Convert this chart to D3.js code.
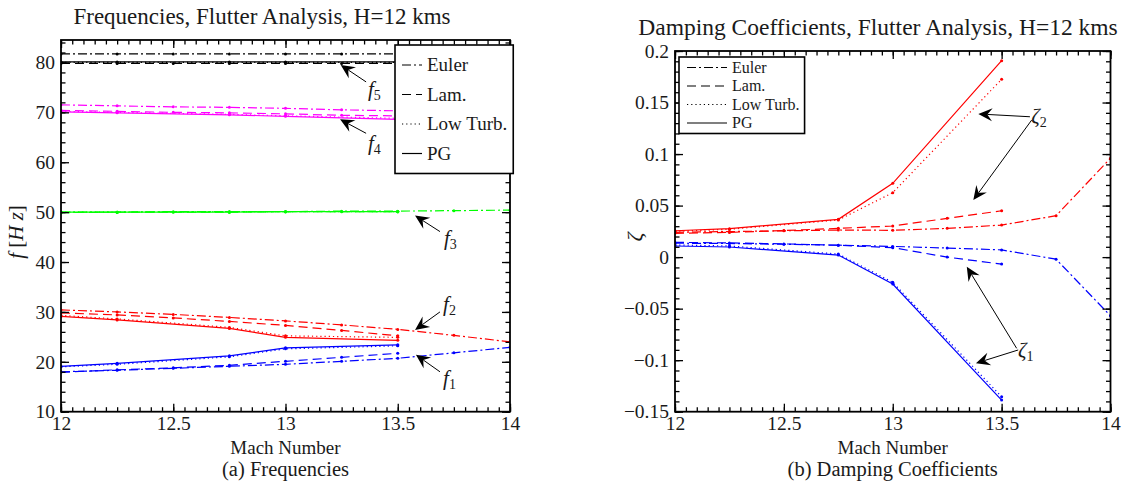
<!DOCTYPE html>
<html>
<head>
<meta charset="utf-8">
<script src="https://cdn.jsdelivr.net/npm/d3@7"></script>
<style>
  body { margin: 0; background: #fff; }
  svg { display: block; }
  text { font-family: "Liberation Serif", "Times New Roman", serif; fill: #1a1a1a; }
</style>
</head>
<body>
<svg id="fig" width="1144" height="485"></svg>
<script>
// ---- Mach number grids per model ----
const machEuler = [12, 12.25, 12.5, 12.75, 13, 13.25, 13.5, 13.75, 14];
const machLam   = [12, 12.25, 12.5, 12.75, 13, 13.25, 13.5];
const machTurb  = [12, 12.25, 12.75, 13, 13.5];
const machPG    = [12, 12.25, 12.75, 13, 13.5];

// ---- Frequencies f [Hz] ----
const f1Euler = [18.0, 18.3, 18.7, 19.1, 19.5, 20.1, 20.7, 21.8, 22.9];
const f1Lam   = [17.9, 18.4, 18.8, 19.3, 20.1, 20.9, 21.7];
const f1Turb  = [19.0, 19.5, 21.0, 22.6, 23.2];
const f1PG    = [19.1, 19.7, 21.2, 22.8, 23.4];

const f2Euler = [30.4, 30.0, 29.5, 28.9, 28.2, 27.4, 26.5, 25.3, 24.0];
const f2Lam   = [29.8, 29.4, 28.8, 28.1, 27.3, 26.3, 25.2];
const f2Turb  = [29.3, 28.6, 26.9, 25.2, 24.9];
const f2PG    = [29.1, 28.4, 26.7, 24.9, 24.3];

const f3Euler = [50.0, 50.0, 50.1, 50.1, 50.1, 50.2, 50.2, 50.3, 50.4];
const f3Lam   = [49.9, 50.0, 50.0, 50.0, 50.1, 50.1, 50.1];
const f3Turb  = [50.0, 50.0, 50.1, 50.1, 50.1];
const f3PG    = [50.0, 50.0, 50.0, 50.1, 50.1];

const f4Euler = [71.5, 71.3, 71.1, 71.0, 70.8, 70.5, 70.3, 70.1, 69.9];
const f4Lam   = [70.4, 70.2, 70.0, 69.9, 69.7, 69.4, 69.3];
const f4Turb  = [70.2, 70.0, 69.6, 69.3, 68.8];
const f4PG    = [70.1, 69.9, 69.5, 69.2, 68.6];

const f5Euler = [81.7, 81.7, 81.7, 81.7, 81.7, 81.7, 81.7, 81.7, 81.7];
const f5Lam   = [79.8, 79.8, 79.8, 79.8, 79.8, 79.8, 79.8];
const f5Turb  = [80.0, 80.0, 80.0, 80.0, 80.0];
const f5PG    = [80.1, 80.1, 80.1, 80.1, 80.1];

// ---- Damping coefficients zeta ----
const z1Euler = [0.0135, 0.0132, 0.0125, 0.0116, 0.0104, 0.0088, 0.0070, -0.0020, -0.0570];
const z1Lam   = [0.0143, 0.0138, 0.0128, 0.0115, 0.0092, 0.0000, -0.0068];
const z1Turb  = [0.0118, 0.0108, 0.0030, -0.0245, -0.1355];
const z1PG    = [0.0108, 0.0098, 0.0020, -0.0261, -0.1387];

const z2Euler = [0.0241, 0.0248, 0.0255, 0.0263, 0.0260, 0.0279, 0.0311, 0.0402, 0.0959];
const z2Lam   = [0.0231, 0.0240, 0.0258, 0.0279, 0.0302, 0.0376, 0.0450];
const z2Turb  = [0.0250, 0.0270, 0.0360, 0.0625, 0.1725];
const z2PG    = [0.0256, 0.0276, 0.0367, 0.0716, 0.1906];

// ---- Tick values ----
const machTicks = [12, 12.5, 13, 13.5, 14];
const machTickLabels = ["12", "12.5", "13", "13.5", "14"];
const freqTicks = [10, 20, 30, 40, 50, 60, 70, 80];
const zetaTicks = [-0.15, -0.1, -0.05, 0, 0.05, 0.1, 0.15, 0.2];
const zetaTickLabels = ["\u22120.15", "\u22120.1", "\u22120.05", "0", "0.05", "0.1", "0.15", "0.2"];

// ---- Legend ----
const modelNames = ["Euler", "Lam.", "Low Turb.", "PG"];
const modelDash  = ["9,3,2,3", "9,5", "1.2,3", null];

const svg = d3.select("#fig");

function range(a, b, step) {
  const out = [];
  const n = Math.round((b - a) / step);
  for (let i = 0; i <= n; i++) out.push(+(a + i * step).toFixed(6));
  return out;
}

// Boxed axes with inward major/minor ticks on all four sides
function drawFrame(g, x, y, xMajor, xLabels, xMinor, yMajor, yLabels, yMinor) {
  const [x0, x1] = x.range();
  const [yb, yt] = y.range();
  const major = 8, minor = 4.5;

  g.append("g").attr("transform", `translate(0,${yb})`)
    .call(d3.axisBottom(x).tickValues(xMajor).tickSize(-major).tickPadding(4)
      .tickFormat((d, i) => xLabels[i]));
  g.append("g").attr("transform", `translate(0,${yb})`)
    .call(d3.axisBottom(x).tickValues(xMinor).tickSize(-minor).tickFormat(""));
  g.append("g").attr("transform", `translate(0,${yt})`)
    .call(d3.axisTop(x).tickValues(xMajor).tickSize(-major).tickFormat(""));
  g.append("g").attr("transform", `translate(0,${yt})`)
    .call(d3.axisTop(x).tickValues(xMinor).tickSize(-minor).tickFormat(""));

  g.append("g").attr("transform", `translate(${x0},0)`)
    .call(d3.axisLeft(y).tickValues(yMajor).tickSize(-major).tickPadding(6)
      .tickFormat((d, i) => yLabels[i]));
  g.append("g").attr("transform", `translate(${x0},0)`)
    .call(d3.axisLeft(y).tickValues(yMinor).tickSize(-minor).tickFormat(""));
  g.append("g").attr("transform", `translate(${x1},0)`)
    .call(d3.axisRight(y).tickValues(yMajor).tickSize(-major).tickFormat(""));
  g.append("g").attr("transform", `translate(${x1},0)`)
    .call(d3.axisRight(y).tickValues(yMinor).tickSize(-minor).tickFormat(""));

  g.selectAll(".domain").remove();
  g.selectAll(".tick line").attr("stroke", "#000").attr("stroke-width", 1.3);
  g.selectAll(".tick text").attr("font-size", 19.5).attr("fill", "#1a1a1a")
    .style("font-family", '"Liberation Serif", serif');

  g.append("rect")
    .attr("x", x0).attr("y", yt).attr("width", x1 - x0).attr("height", yb - yt)
    .attr("fill", "none").attr("stroke", "#000").attr("stroke-width", 1.8);
}

function drawSeries(g, x, y, mach, vals, color, dash) {
  const pts = mach.map((m, i) => [m, vals[i]]);
  const line = d3.line().x(d => x(d[0])).y(d => y(d[1]));
  g.append("path").datum(pts).attr("d", line)
    .attr("fill", "none").attr("stroke", color).attr("stroke-width", 1.2)
    .attr("stroke-dasharray", dash);
  g.selectAll(null).data(pts).enter().append("circle")
    .attr("cx", d => x(d[0])).attr("cy", d => y(d[1])).attr("r", 1.5)
    .attr("fill", color);
}

function drawArrow(g, x, y, from, to) {
  const x1 = x(from[0]), y1 = y(from[1]), x2 = x(to[0]), y2 = y(to[1]);
  const ang = Math.atan2(y2 - y1, x2 - x1);
  const L = 14, Wd = 6.5, notch = 9;
  const ca = Math.cos(ang), sa = Math.sin(ang);
  const p = (dx, dy) => [x2 + dx * ca - dy * sa, y2 + dx * sa + dy * ca];
  g.append("line").attr("x1", x1).attr("y1", y1)
    .attr("x2", p(-notch, 0)[0]).attr("y2", p(-notch, 0)[1])
    .attr("stroke", "#000").attr("stroke-width", 1);
  const head = [p(0, 0), p(-L, -Wd), p(-notch, 0), p(-L, Wd)];
  g.append("path").attr("d", "M" + head.map(q => q.join(",")).join("L") + "Z")
    .attr("fill", "#000");
}

function symLabel(g, x, y, at, sym, sub) {
  const t = g.append("text").attr("x", x(at[0])).attr("y", y(at[1]))
    .attr("font-size", 21).attr("fill", "#333");
  t.append("tspan").attr("font-style", "italic").text(sym);
  t.append("tspan").attr("font-size", 14).attr("dy", 4).text(sub);
}

// Legend box sized to its widest entry
function drawLegend(g, o) {
  const box = g.append("rect").attr("fill", "#fff").attr("stroke", "#000").attr("stroke-width", 1.6);
  let maxW = 0;
  modelNames.forEach((name, i) => {
    const cy = o.top + o.rowFirst + i * o.rowStep;
    g.append("line").attr("x1", o.left + o.sampleStart).attr("x2", o.left + o.sampleStart + o.sampleLen)
      .attr("y1", cy).attr("y2", cy).attr("stroke", "#000").attr("stroke-width", 1.2)
      .attr("stroke-dasharray", modelDash[i]);
    const t = g.append("text").attr("x", o.left + o.sampleStart + o.sampleLen + o.gap)
      .attr("y", cy + o.fontSize * 0.33)
      .attr("font-size", o.fontSize).text(name);
    maxW = Math.max(maxW, t.node().getComputedTextLength());
  });
  const h = o.rowFirst * 2 + (modelNames.length - 1) * o.rowStep;
  const w = o.sampleStart + o.sampleLen + o.gap + maxW + o.padRight;
  box.attr("x", o.left).attr("y", o.top).attr("width", w).attr("height", h);
}

// ================= (a) Frequencies =================
{
  const g = svg.append("g");
  const x = d3.scaleLinear().domain([12, 14]).range([61, 510]);
  const y = d3.scaleLinear().domain([10, 84.5]).range([411.7, 40]);

  const clip = g.append("clipPath").attr("id", "clipA");
  clip.append("rect").attr("x", 61).attr("y", 40).attr("width", 449).attr("height", 371.7);
  const plot = g.append("g").attr("clip-path", "url(#clipA)");

  const modes = [
    ["#0000ff", f1Euler, f1Lam, f1Turb, f1PG],
    ["#ff0000", f2Euler, f2Lam, f2Turb, f2PG],
    ["#00ff00", f3Euler, f3Lam, f3Turb, f3PG],
    ["#ff00ff", f4Euler, f4Lam, f4Turb, f4PG],
    ["#000000", f5Euler, f5Lam, f5Turb, f5PG]
  ];
  modes.forEach(([c, e, l, t, p]) => {
    drawSeries(plot, x, y, machEuler, e, c, modelDash[0]);
    drawSeries(plot, x, y, machLam, l, c, modelDash[1]);
    drawSeries(plot, x, y, machTurb, t, c, modelDash[2]);
    drawSeries(plot, x, y, machPG, p, c, modelDash[3]);
  });

  drawFrame(g, x, y, machTicks, machTickLabels, range(12, 14, 0.05),
    freqTicks, freqTicks.map(String), range(10, 84, 2));

  // mode annotations
  drawArrow(g, x, y, [13.359, 76.1], [13.246, 79.5]);
  symLabel(g, x, y, [13.367, 73.2], "f", "5");
  drawArrow(g, x, y, [13.359, 65.8], [13.243, 68.6]);
  symLabel(g, x, y, [13.367, 62.4], "f", "4");
  drawArrow(g, x, y, [13.688, 46.1], [13.577, 49.3]);
  symLabel(g, x, y, [13.706, 43.4], "f", "3");
  drawArrow(g, x, y, [13.688, 30.0], [13.577, 26.4]);
  symLabel(g, x, y, [13.702, 30.2], "f", "2");
  drawArrow(g, x, y, [13.688, 18.0], [13.581, 21.4]);
  symLabel(g, x, y, [13.702, 15.3], "f", "1");

  drawLegend(g, { left: 395, top: 45, rowStep: 29.5, rowFirst: 20, sampleStart: 7,
    sampleLen: 20, gap: 5, fontSize: 19, padRight: 6 });

  g.append("text").attr("x", 262).attr("y", 24).attr("text-anchor", "middle")
    .attr("font-size", 23).text("Frequencies, Flutter Analysis, H=12 kms");
  g.append("text").attr("x", 285.5).attr("y", 454).attr("text-anchor", "middle")
    .attr("font-size", 19).text("Mach Number");
  g.append("text").attr("x", 285.5).attr("y", 476).attr("text-anchor", "middle")
    .attr("font-size", 20.5).text("(a) Frequencies");
  const yl = g.append("text").attr("transform", "translate(23,232) rotate(-90)")
    .attr("text-anchor", "middle").attr("font-size", 21);
  yl.append("tspan").attr("font-style", "italic").text("f");
  yl.append("tspan").text(" [");
  yl.append("tspan").attr("font-style", "italic").text("H z");
  yl.append("tspan").text("]");
}

// ================= (b) Damping Coefficients =================
{
  const g = svg.append("g");
  const x = d3.scaleLinear().domain([12, 14]).range([675, 1110.5]);
  const y = d3.scaleLinear().domain([-0.15, 0.2]).range([411.7, 51]);

  const clip = g.append("clipPath").attr("id", "clipB");
  clip.append("rect").attr("x", 675).attr("y", 51).attr("width", 435.5).attr("height", 360.7);
  const plot = g.append("g").attr("clip-path", "url(#clipB)");

  const modes = [
    ["#0000ff", z1Euler, z1Lam, z1Turb, z1PG],
    ["#ff0000", z2Euler, z2Lam, z2Turb, z2PG]
  ];
  modes.forEach(([c, e, l, t, p]) => {
    drawSeries(plot, x, y, machEuler, e, c, modelDash[0]);
    drawSeries(plot, x, y, machLam, l, c, modelDash[1]);
    drawSeries(plot, x, y, machTurb, t, c, modelDash[2]);
    drawSeries(plot, x, y, machPG, p, c, modelDash[3]);
  });

  drawFrame(g, x, y, machTicks, machTickLabels, range(12, 14, 0.05),
    zetaTicks, zetaTickLabels, range(-0.15, 0.2, 0.01));

  drawArrow(g, x, y, [13.630, 0.1362], [13.393, 0.1389]);
  drawArrow(g, x, y, [13.638, 0.1330], [13.370, 0.0554]);
  symLabel(g, x, y, [13.636, 0.1301], "\u03b6", "2");
  drawArrow(g, x, y, [13.569, -0.0885], [13.340, -0.0093]);
  drawArrow(g, x, y, [13.576, -0.0901], [13.382, -0.1030]);
  symLabel(g, x, y, [13.575, -0.0969], "\u03b6", "1");

  drawLegend(g, { left: 679, top: 57, rowStep: 18.5, rowFirst: 10.5, sampleStart: 8,
    sampleLen: 40, gap: 5, fontSize: 16, padRight: 5 });

  g.append("text").attr("x", 878).attr("y", 35).attr("text-anchor", "middle")
    .attr("font-size", 23.5).text("Damping Coefficients, Flutter Analysis, H=12 kms");
  g.append("text").attr("x", 892.7).attr("y", 454).attr("text-anchor", "middle")
    .attr("font-size", 19).text("Mach Number");
  g.append("text").attr("x", 892.7).attr("y", 476).attr("text-anchor", "middle")
    .attr("font-size", 20.5).text("(b) Damping Coefficients");
  g.append("text").attr("transform", "translate(642,237) rotate(-90)")
    .attr("text-anchor", "middle").attr("font-size", 22).attr("font-style", "italic")
    .text("\u03b6");
}
</script>
</body>
</html>
